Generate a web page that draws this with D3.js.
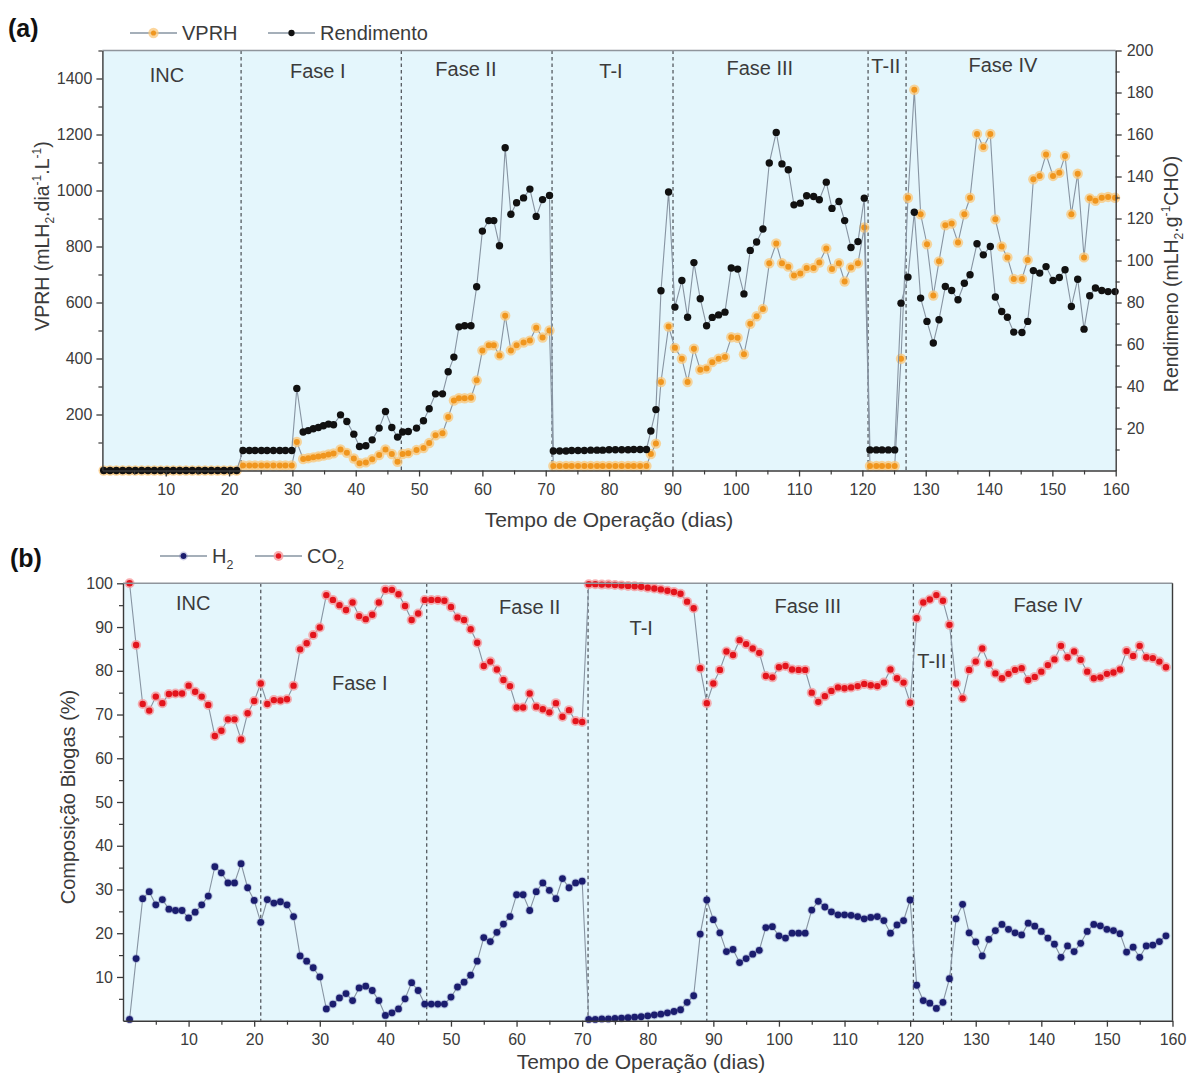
<!DOCTYPE html>
<html>
<head>
<meta charset="utf-8">
<script src="https://cdn.jsdelivr.net/npm/d3@7"></script>
<style>
  body { margin: 0; background: #ffffff; }
  svg text { font-family: "Liberation Sans", Arial, sans-serif; }
</style>
</head>
<body>
<svg id="chart" width="1189" height="1077"></svg>
<script>
// ---------------- Panel (a): VPRH and Rendimento ----------------
const daysA = [
  0.2, 1.2, 2.2, 3.2, 4.2, 5.2, 6.2, 7.2, 8.2, 9.2, 10.2, 11.2, 12.2, 13.2, 14.2, 15.2, 16.2, 17.2, 18.2, 19.2, 20.2, 21.2,
  22.2, 23.2, 24.1, 25.1, 26.0, 27.0, 28.0, 28.9, 29.9,
  30.7, 31.7, 32.5, 33.3, 34.1, 34.9, 35.7, 36.5, 37.6, 38.6, 39.7, 40.6, 41.6, 42.6, 43.7, 44.7, 45.7, 46.6,
  47.4, 48.3, 49.6, 50.7, 51.6, 52.6, 53.7, 54.6, 55.5, 56.3, 57.2, 58.2, 59.1, 60.0, 61.0, 61.8, 62.7, 63.6, 64.5, 65.4, 66.5, 67.5, 68.5, 69.5, 70.6,
  71.2, 72.2, 73.2, 74.1, 75.1, 76.1, 77.1, 78.1, 79.0, 80.0, 81.0, 82.0, 83.0, 83.9, 84.9, 85.9,
  86.6, 87.4, 88.2, 89.4,
  90.4, 91.5, 92.4, 93.4, 94.4, 95.4, 96.3, 97.3, 98.3, 99.3, 100.3, 101.3, 102.3, 103.3, 104.3, 105.3, 106.4, 107.3, 108.3, 109.2, 110.2, 111.2, 112.3, 113.2, 114.3, 115.2, 116.3, 117.2, 118.2, 119.3, 120.3,
  121.2, 122.2, 123.1, 124.1, 125.1,
  126.1, 127.2, 128.2, 129.2, 130.2, 131.2, 132.1, 133.1, 134.1, 135.1, 136.1, 137.0, 138.1, 139.1, 140.2, 141.0, 142.0, 142.9, 143.9, 145.2, 146.1, 147.0, 148.0, 149.0, 150.1, 151.1, 152.0, 153.0, 154.0, 155.0, 155.9, 156.8, 157.8, 158.8, 159.9
];

// VPRH (mLH2.dia-1.L-1), left axis
const vprh = [
  0, 0, 0, 0, 0, 0, 0, 0, 0, 0, 0, 0, 0, 0, 0, 0, 0, 0, 0, 0, 0, 0,
  18, 18, 18, 18, 18, 18, 18, 18, 18,
  102, 41, 44, 47, 50, 53, 57, 61, 75, 63, 43, 26, 29, 40, 55, 75, 59, 31,
  59, 62, 73, 80, 98, 126, 133, 191, 250, 258, 258, 260, 322, 429, 447, 447, 411, 553, 429, 447, 457, 464, 510, 475, 500,
  16, 16, 16, 16, 16, 16, 16, 16, 16, 16, 16, 16, 16, 16, 16, 16,
  59, 96, 316, 514,
  438, 399, 316, 435, 360, 364, 387, 399, 405, 476, 474, 415, 524, 551, 577, 740, 811, 740, 728, 696, 704, 723, 723, 743, 793, 720, 740, 675, 725, 740, 868,
  16, 16, 16, 16, 16,
  399, 974, 1360, 915, 808, 625, 747, 876, 882, 814, 915, 974, 1202, 1155, 1202, 897, 800, 761, 684, 684, 752, 1040, 1052, 1129, 1052, 1063, 1123, 915, 1060, 761, 972, 963, 974, 977, 974
];

// Rendimento (mLH2.g-1CHO), right axis
const rendimento = [
  0, 0, 0, 0, 0, 0, 0, 0, 0, 0, 0, 0, 0, 0, 0, 0, 0, 0, 0, 0, 0, 0,
  9.5, 9.5, 9.5, 9.5, 9.5, 9.5, 9.5, 9.5, 9.5,
  39.1, 18.3, 19.0, 19.9, 20.5, 21.3, 22.1, 21.8, 26.5, 23.3, 17.3, 11.4, 11.8, 14.6, 20.2, 28.1, 20.5, 15.9,
  18.3, 18.6, 20.2, 23.7, 29.4, 36.5, 36.5, 47, 54, 68.4, 68.9, 68.9, 87.5, 114, 119, 119, 107, 153.7, 122, 127.5, 129.8, 134, 121, 129, 131,
  9.3, 9.3, 9.3, 9.5, 9.5, 9.5, 9.7, 9.7, 9.7, 9.9, 9.9, 9.9, 9.9, 10.0, 10.0, 10.0,
  18.8, 29, 85.6, 132.6,
  77.8, 90.5, 73.0, 99.0, 81.8, 68.9, 72.9, 74.1, 75.4, 96.4, 95.9, 84.1, 104.8, 108.8, 115, 146.4, 161, 146, 143.2, 126.5, 127.3, 130.8, 130.5, 128.9, 137.3, 124.8, 128.1, 119, 106.2, 109, 129.7,
  9.8, 9.8, 9.8, 9.8, 9.8,
  79.7, 92.1, 123, 82.1, 71, 60.7, 71.8, 87.6, 85.7, 81.3, 89.2, 93.2, 108, 102.7, 106.7, 82.6, 75.7, 73, 65.9, 65.7, 71, 95.2, 94, 97.1, 90.5, 91.9, 95.6, 78.1, 91.1, 67.3, 83.2, 86.9, 85.7, 85.2, 85.2
];

// ---------------- Panel (b): biogas composition ----------------
const daysB = d3.range(1, 160);

const h2 = [
  0.3, 14.2, 27.9, 29.5, 26.5, 27.7, 25.5, 25.2, 25.2, 23.5,
  24.8, 26.5, 28.5, 35.2, 33.8, 31.5, 31.5, 35.9, 30.4, 27.5,
  22.5, 27.7, 26.9, 27.2, 26.5, 23.8, 14.8, 13.6, 12.1, 10.0,
  2.7, 3.8, 5.2, 6.2, 4.6, 7.5, 7.9, 6.9, 4.6, 1.2,
  1.8, 2.7, 5.0, 8.7, 6.9, 3.8, 3.8, 3.8, 3.8, 5.4,
  7.7, 8.8, 10.4, 13.6, 19.0, 18.1, 20.2, 22.1, 23.8, 28.8,
  28.8, 25.2, 29.5, 31.5, 29.8, 27.9, 32.5, 30.4, 31.5, 31.9,
  0.3, 0.3, 0.4, 0.4, 0.5, 0.6, 0.7, 0.8, 0.9, 1.1,
  1.3, 1.5, 1.8, 2.1, 2.5, 4.2, 5.7, 19.8, 27.6, 23.1,
  20.1, 15.8, 16.3, 13.3, 14.2, 15.2, 16.1, 21.3, 21.5, 19.4,
  18.9, 20.0, 20.0, 20.0, 25.3, 27.3, 26.0, 24.9, 24.2, 24.2,
  24.1, 23.8, 23.3, 23.6, 23.8, 22.9, 20.0, 21.9, 22.9, 27.6,
  8.1, 4.6, 4.0, 2.8, 4.2, 9.6, 23.3, 26.6, 20.1, 18.0,
  14.8, 18.6, 20.6, 22.0, 20.9, 20.1, 19.6, 22.3, 21.6, 20.4,
  18.9, 17.5, 14.5, 17.1, 15.8, 17.7, 20.4, 22.0, 21.7, 20.9,
  20.6, 19.9, 15.7, 16.8, 14.5, 17.1, 17.3, 18.1, 19.4
];

const co2 = [
  100, 85.9, 72.4, 70.9, 74.1, 72.6, 74.7, 74.8, 74.8, 76.6,
  75.2, 74.1, 72.2, 65.1, 66.3, 68.9, 68.9, 64.3, 70.3, 73.1,
  77.1, 72.4, 73.3, 73.2, 73.5, 76.6, 84.9, 86.3, 88.2, 89.9,
  97.3, 96.2, 95.0, 93.9, 95.6, 92.5, 91.8, 92.8, 95.6, 98.5,
  98.5, 97.5, 94.8, 91.6, 93.1, 96.2, 96.2, 96.2, 96.0, 94.6,
  92.2, 91.6, 89.5, 86.4, 81.1, 82.1, 80.3, 77.9, 76.5, 71.6,
  71.6, 74.8, 71.8, 71.2, 70.5, 72.6, 69.5, 71.0, 68.5, 68.3,
  99.8, 99.8, 99.7, 99.7, 99.6, 99.5, 99.4, 99.3, 99.2, 99.0,
  98.8, 98.6, 98.3, 98.0, 97.6, 95.8, 94.3, 80.6, 72.6, 77.1,
  80.2, 84.4, 83.6, 87.0, 86.1, 85.1, 84.1, 78.8, 78.5, 80.8,
  81.1, 80.3, 80.2, 80.2, 75.0, 72.9, 74.2, 75.4, 76.2, 76.0,
  76.2, 76.5, 77.0, 76.7, 76.5, 77.3, 80.3, 78.3, 77.3, 72.7,
  92.0, 95.6, 96.3, 97.3, 96.0, 90.5, 77.1, 73.7, 80.2, 82.1,
  85.1, 81.6, 79.4, 78.3, 79.3, 80.2, 80.6, 77.9, 78.6, 79.8,
  81.3, 82.6, 85.7, 83.1, 84.4, 82.5, 79.8, 78.3, 78.5, 79.3,
  79.6, 80.3, 84.5, 83.4, 85.7, 83.1, 82.9, 82.1, 80.8
];

// Phase names and boundaries (days)
const phaseNames = ["INC", "Fase I", "Fase II", "T-I", "Fase III", "T-II", "Fase IV"];
const phaseBoundsA = [21.9, 47.2, 71.0, 90.1, 120.9, 126.9];
const phaseBoundsB = [21.0, 46.3, 70.9, 89.0, 120.5, 126.3];

// Tick values
const xTicks = d3.range(10, 161, 10);
const xMinor = d3.range(5, 160, 10);
const yTicksA = [200, 400, 600, 800, 1000, 1200, 1400];
const yMinorA = [100, 300, 500, 700, 900, 1100, 1300, 1500];
const yTicksAR = [20, 40, 60, 80, 100, 120, 140, 160, 180, 200];
const yMinorAR = [10, 30, 50, 70, 90, 110, 130, 150, 170, 190];
const yTicksB = [10, 20, 30, 40, 50, 60, 70, 80, 90, 100];
const yMinorB = [5, 15, 25, 35, 45, 55, 65, 75, 85, 95];

// ---------------- Layout ----------------
const svg = d3.select("#chart");
const A = { left: 102.4, right: 1115.7, top: 50.5, bottom: 470.5 };
const B = { left: 123, right: 1172.5, top: 583.3, bottom: 1020.7 };

const xA = d3.scaleLinear().domain([0, 160]).range([A.left, A.right]);
const yAL = d3.scaleLinear().domain([0, 1500]).range([A.bottom, A.top]);
const yAR = d3.scaleLinear().domain([0, 200]).range([A.bottom, A.top]);
const xB = d3.scaleLinear().domain([0, 160]).range([B.left, B.right]);
const yB = d3.scaleLinear().domain([0, 100]).range([B.bottom, B.top]);

const BG = "#e4f6fc";
const AXIS = "#3a3a3a";
const FRAME = "#8f959c";
const LINK = "#8794a2";
const TXT = "#3b3b3b";
const fmt = d3.format("d");

// text with sub/superscript parts
function rich(sel, parts, size) {
  let shift = 0;
  parts.forEach(([t, k]) => {
    const target = k === "sub" ? size * 0.28 : k === "sup" ? -size * 0.42 : 0;
    sel.append("tspan")
      .attr("dy", target - shift)
      .attr("font-size", k ? size * 0.62 : size)
      .text(t);
    shift = target;
  });
}

function styleAxis(g, fontSize) {
  g.select(".domain").attr("stroke", AXIS).attr("stroke-width", 1.4);
  g.selectAll(".tick line").attr("stroke", AXIS).attr("stroke-width", 1.3);
  g.selectAll(".tick text").attr("fill", TXT).attr("font-size", fontSize)
    .attr("font-family", "Liberation Sans, Arial, sans-serif");
}

function minorAxis(g, gen) {
  g.call(gen);
  g.select(".domain").remove();
  g.selectAll(".tick line").attr("stroke", AXIS).attr("stroke-width", 1.2);
  g.selectAll(".tick text").remove();
}

function phaseLines(P, xs, bounds) {
  svg.append("g").selectAll("line").data(bounds).join("line")
    .attr("x1", d => xs(d)).attr("x2", d => xs(d))
    .attr("y1", P.top).attr("y2", P.bottom)
    .attr("stroke", "#555a60").attr("stroke-width", 1.3)
    .attr("stroke-dasharray", "3.5,3");
}

function phaseLabels(xs, layout) {
  svg.append("g").selectAll("text").data(layout).join("text")
    .attr("x", d => xs(d.day)).attr("y", d => d.y)
    .attr("text-anchor", "middle").attr("font-size", 20).attr("fill", TXT)
    .text((d, i) => phaseNames[i]);
}

function series(xs, ys, days, vals, marker) {
  const pts = days.map((d, i) => ({ d, v: vals[i] }));
  const g = svg.append("g");
  g.append("path").datum(pts)
    .attr("fill", "none").attr("stroke", LINK).attr("stroke-width", 1.1)
    .attr("d", d3.line().x(p => xs(p.d)).y(p => ys(p.v)));
  if (marker.halo) {
    g.append("g").selectAll("circle").data(pts).join("circle")
      .attr("cx", p => xs(p.d)).attr("cy", p => ys(p.v)).attr("r", marker.haloR)
      .attr("fill", marker.halo).attr("opacity", marker.haloOpacity);
  }
  g.append("g").selectAll("circle").data(pts).join("circle")
    .attr("cx", p => xs(p.d)).attr("cy", p => ys(p.v)).attr("r", marker.r)
    .attr("fill", marker.fill);
}

const markers = {
  vprh: { fill: "#f0961e", r: 3.0, halo: "#fbc77a", haloR: 5.2, haloOpacity: 0.75 },
  rend: { fill: "#111111", r: 3.7 },
  h2: { fill: "#1b1d6e", r: 3.4, halo: "#6d70b0", haloR: 4.4, haloOpacity: 0.35 },
  co2: { fill: "#e3141c", r: 3.2, halo: "#f59a9c", haloR: 5.0, haloOpacity: 0.8 }
};

// ---------------- Draw panel (a) ----------------
svg.append("rect").attr("x", A.left).attr("y", A.top)
  .attr("width", A.right - A.left).attr("height", A.bottom - A.top).attr("fill", BG);

phaseLines(A, xA, phaseBoundsA);
phaseLabels(xA, [
  { day: 10.2, y: 81.5 }, { day: 34.0, y: 78 }, { day: 57.4, y: 76 }, { day: 80.3, y: 78 },
  { day: 103.8, y: 75 }, { day: 123.7, y: 73 }, { day: 142.2, y: 71.5 }
]);

series(xA, yAL, daysA, vprh, markers.vprh);
series(xA, yAR, daysA, rendimento, markers.rend);

// frame top
svg.append("line").attr("x1", A.left).attr("x2", A.right).attr("y1", A.top).attr("y2", A.top)
  .attr("stroke", FRAME).attr("stroke-width", 1.6);

const gxA = svg.append("g").attr("transform", `translate(0,${A.bottom})`)
  .call(d3.axisBottom(xA).tickValues(xTicks).tickFormat(fmt).tickSize(6).tickPadding(7).tickSizeOuter(0));
styleAxis(gxA, 16);
minorAxis(svg.append("g").attr("transform", `translate(0,${A.bottom})`),
  d3.axisBottom(xA).tickValues(xMinor).tickSize(4));

const gyA = svg.append("g").attr("transform", `translate(${A.left},0)`)
  .call(d3.axisLeft(yAL).tickValues(yTicksA).tickFormat(fmt).tickSize(6).tickPadding(4).tickSizeOuter(0));
styleAxis(gyA, 16);
minorAxis(svg.append("g").attr("transform", `translate(${A.left},0)`),
  d3.axisLeft(yAL).tickValues(yMinorA).tickSize(4));

const gyAR = svg.append("g").attr("transform", `translate(${A.right},0)`)
  .call(d3.axisRight(yAR).tickValues(yTicksAR).tickFormat(fmt).tickSize(6).tickPadding(5).tickSizeOuter(0));
styleAxis(gyAR, 16);
minorAxis(svg.append("g").attr("transform", `translate(${A.right},0)`),
  d3.axisRight(yAR).tickValues(yMinorAR).tickSize(4));

// titles (a)
svg.append("text").attr("x", 609).attr("y", 527).attr("text-anchor", "middle")
  .attr("font-size", 21).attr("fill", TXT).text("Tempo de Operação (dias)");

rich(svg.append("text").attr("transform", "translate(49,236) rotate(-90)")
  .attr("text-anchor", "middle").attr("fill", TXT),
  [["VPRH (mLH", ""], ["2", "sub"], [".dia", ""], ["-1", "sup"], [".L", ""], ["-1", "sup"], [")", ""]], 19.5);

rich(svg.append("text").attr("transform", "translate(1178,274) rotate(-90)")
  .attr("text-anchor", "middle").attr("fill", TXT),
  [["Rendimeno (mLH", ""], ["2", "sub"], [".g", ""], ["-1", "sup"], ["CHO)", ""]], 19.5);

// legend rows
function legendItem(x0, y0, marker, parts) {
  svg.append("line").attr("x1", x0).attr("x2", x0 + 47).attr("y1", y0).attr("y2", y0)
    .attr("stroke", LINK).attr("stroke-width", 1.3);
  if (marker.halo) {
    svg.append("circle").attr("cx", x0 + 23.5).attr("cy", y0).attr("r", marker.haloR)
      .attr("fill", marker.halo).attr("opacity", marker.haloOpacity);
  }
  svg.append("circle").attr("cx", x0 + 23.5).attr("cy", y0).attr("r", marker.r * 0.85)
    .attr("fill", marker.fill);
  rich(svg.append("text").attr("x", x0 + 52).attr("y", y0 + 7).attr("fill", TXT), parts, 20);
}
legendItem(130, 33, markers.vprh, [["VPRH", ""]]);
legendItem(268, 33, markers.rend, [["Rendimento", ""]]);

svg.append("text").attr("x", 8).attr("y", 37).attr("font-size", 25).attr("font-weight", "bold")
  .attr("font-family", "Liberation Serif, Times New Roman, serif").attr("fill", "#111").text("(a)");

// ---------------- Draw panel (b) ----------------
svg.append("rect").attr("x", B.left).attr("y", B.top)
  .attr("width", B.right - B.left).attr("height", B.bottom - B.top).attr("fill", BG);

phaseLines(B, xB, phaseBoundsB);
phaseLabels(xB, [
  { day: 10.7, y: 610 }, { day: 36.1, y: 690 }, { day: 62.0, y: 614 }, { day: 79.0, y: 635 },
  { day: 104.4, y: 613 }, { day: 123.3, y: 668 }, { day: 141.0, y: 612 }
]);

series(xB, yB, daysB, co2, markers.co2);
series(xB, yB, daysB, h2, markers.h2);

svg.append("line").attr("x1", B.left).attr("x2", B.right).attr("y1", B.top).attr("y2", B.top)
  .attr("stroke", FRAME).attr("stroke-width", 1.6);
svg.append("line").attr("x1", B.right).attr("x2", B.right).attr("y1", B.top).attr("y2", B.bottom)
  .attr("stroke", AXIS).attr("stroke-width", 1.4);

const gxB = svg.append("g").attr("transform", `translate(0,${B.bottom})`)
  .call(d3.axisBottom(xB).tickValues(xTicks).tickFormat(fmt).tickSize(6).tickPadding(7).tickSizeOuter(0));
styleAxis(gxB, 16);
minorAxis(svg.append("g").attr("transform", `translate(0,${B.bottom})`),
  d3.axisBottom(xB).tickValues(xMinor).tickSize(4));

const gyB = svg.append("g").attr("transform", `translate(${B.left},0)`)
  .call(d3.axisLeft(yB).tickValues(yTicksB).tickFormat(fmt).tickSize(6).tickPadding(4).tickSizeOuter(0));
styleAxis(gyB, 16);
minorAxis(svg.append("g").attr("transform", `translate(${B.left},0)`),
  d3.axisLeft(yB).tickValues(yMinorB).tickSize(4));

svg.append("text").attr("x", 641).attr("y", 1069).attr("text-anchor", "middle")
  .attr("font-size", 21).attr("fill", TXT).text("Tempo de Operação (dias)");

svg.append("text").attr("transform", "translate(75,797) rotate(-90)")
  .attr("text-anchor", "middle").attr("font-size", 20).attr("fill", TXT)
  .text("Composição Biogas (%)");

legendItem(160, 556, markers.h2, [["H", ""], ["2", "sub"]]);
legendItem(255, 556, markers.co2, [["CO", ""], ["2", "sub"]]);

svg.append("text").attr("x", 10).attr("y", 567).attr("font-size", 25).attr("font-weight", "bold")
  .attr("font-family", "Liberation Serif, Times New Roman, serif").attr("fill", "#111").text("(b)");
</script>
</body>
</html>
